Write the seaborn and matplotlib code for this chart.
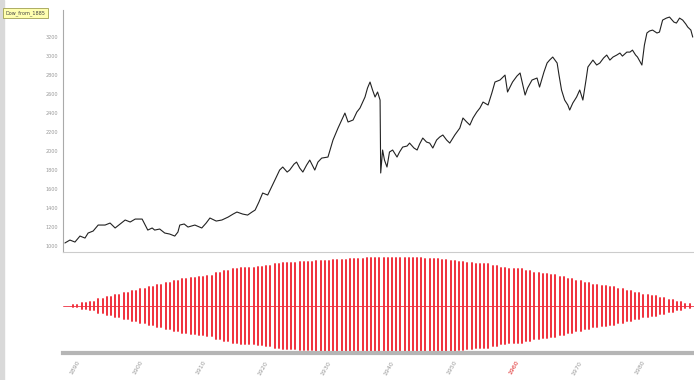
import numpy as np
import pandas as pd
import seaborn as sns
import matplotlib
matplotlib.use("Agg")
import matplotlib.pyplot as plt
from matplotlib.patches import Rectangle
from matplotlib.ticker import MultipleLocator

# index level
years = [1888.4, 1889.2, 1890.0, 1890.8, 1891.6, 1892.1, 1892.9, 1893.7, 1894.8, 1895.6,
         1896.4, 1897.2, 1898.0, 1898.8, 1899.6, 1900.7, 1901.1, 1901.6, 1902.3, 1902.7,
         1903.5, 1904.3, 1905.1, 1905.9, 1906.4, 1906.7, 1907.4, 1908.0, 1909.1, 1910.2,
         1910.9, 1911.5, 1912.5, 1913.4, 1914.4, 1915.2, 1915.8, 1916.7, 1917.5, 1918.2,
         1918.7, 1919.3, 1919.9, 1920.7, 1921.4, 1922.0, 1922.6, 1923.1, 1923.8, 1924.2,
         1924.9, 1925.3, 1925.8, 1926.3, 1926.9, 1927.4, 1928.2, 1928.7, 1929.3, 1930.3,
         1931.1, 1931.9, 1932.5, 1933.0, 1933.5, 1934.3, 1934.9, 1935.4, 1936.2, 1936.6,
         1937.0, 1937.4, 1937.8, 1938.2, 1938.6, 1938.7, 1939.0, 1939.3, 1939.7, 1940.1,
         1940.6, 1941.3, 1941.7, 1942.2, 1942.9, 1943.3, 1944.0, 1944.5, 1944.9, 1945.4,
         1946.0, 1946.5, 1947.0, 1947.6, 1948.1, 1948.6, 1949.2, 1949.7, 1950.5, 1951.3,
         1951.8, 1952.4, 1952.9, 1953.4, 1954.0, 1954.5, 1955.0, 1955.8, 1956.4, 1956.9,
         1957.7, 1958.5, 1958.9, 1959.7, 1960.4, 1960.9, 1961.7, 1962.1, 1962.8, 1963.6,
         1964.0, 1964.7, 1965.2, 1965.6, 1966.1, 1966.8, 1967.1, 1967.5, 1968.0, 1968.5,
         1968.8, 1969.3, 1969.9, 1970.4, 1970.9, 1971.4, 1971.7, 1972.5, 1973.1, 1973.6,
         1974.2, 1974.7, 1975.2, 1975.7, 1976.3, 1976.8, 1977.2, 1977.9, 1978.4, 1978.8,
         1979.3, 1979.6, 1980.3, 1980.7, 1981.1, 1981.5, 1982.0, 1982.7, 1983.1, 1983.6,
         1984.2, 1984.7, 1985.4, 1985.8, 1986.3, 1986.8, 1987.3, 1987.6, 1988.1, 1988.4]
level = [1032, 1063, 1042, 1105, 1084, 1137, 1158, 1221, 1221, 1242,
         1190, 1232, 1274, 1253, 1284, 1284, 1232, 1168, 1190, 1168,
         1179, 1137, 1126, 1105, 1147, 1221, 1232, 1200, 1221, 1190,
         1242, 1295, 1263, 1274, 1305, 1337, 1358, 1337, 1326, 1358,
         1379, 1463, 1558, 1537, 1632, 1716, 1800, 1832, 1779, 1800,
         1863, 1884, 1821, 1779, 1853, 1905, 1800, 1884, 1926, 1937,
         2116, 2242, 2327, 2400, 2306, 2327, 2411, 2453, 2569, 2664,
         2727, 2643, 2569, 2622, 2537, 1769, 2011, 1905, 1832, 1990,
         2011, 1937, 1990, 2042, 2053, 2084, 2032, 2011, 2074, 2137,
         2095, 2084, 2032, 2116, 2148, 2169, 2116, 2084, 2169, 2242,
         2348, 2306, 2274, 2348, 2411, 2453, 2516, 2485, 2611, 2727,
         2748, 2800, 2622, 2727, 2790, 2822, 2590, 2664, 2748, 2769,
         2674, 2832, 2927, 2958, 2990, 2927, 2800, 2643, 2537, 2485,
         2432, 2506, 2569, 2643, 2537, 2748, 2885, 2958, 2906, 2927,
         2980, 3011, 2958, 2990, 3011, 3032, 3000, 3042, 3042, 3063,
         3011, 2990, 2906, 3116, 3243, 3264, 3274, 3243, 3253, 3379,
         3400, 3411, 3358, 3348, 3400, 3379, 3337, 3306, 3274, 3200]

# oscillator swing amplitude, one value per up/down cycle (two strokes each)
swing = [0, 1, 3, 4, 7, 9, 11, 13, 15, 17, 19, 21, 23, 25, 27, 28, 29, 30, 33, 35,
         37, 38, 38, 39, 40, 42, 43, 43, 44, 44, 45, 45, 46, 46, 47, 47, 48, 48, 48, 48,
         48, 48, 48, 47, 47, 46, 45, 44, 43, 42, 42, 40, 38, 37, 37, 35, 33, 32, 31, 29,
         27, 25, 23, 21, 20, 19, 17, 15, 13, 11, 10, 8, 6, 4, 2]

tick_years = [1890, 1900, 1910, 1920, 1930, 1940, 1950, 1960, 1970, 1980]
tick_labels = [str(y) for y in tick_years]

df_top = pd.DataFrame({"year": years, "level": level})

# each stroke is a vertical swing from -a to +a
amp = np.repeat(swing, 2)
stroke_x = np.linspace(years[0], 1987.9, len(amp))
df_osc = pd.DataFrame({
    "stroke": np.repeat(np.arange(len(amp)), 2),
    "year": np.repeat(stroke_x, 2),
    "osc": np.ravel(np.column_stack([-amp, amp])),
})

sns.set_style("white")
fig = plt.figure(figsize=(6.94, 3.8), dpi=100)
ax1 = fig.add_axes([0.0908, 0.3368, 0.9092, 0.6368])
ax2 = fig.add_axes([0.0908, 0.0711, 0.9092, 0.2553], sharex=ax1)

sns.lineplot(data=df_top, x="year", y="level", ax=ax1, color="#222222",
             linewidth=0.8, estimator=None)
ax2.axhline(0, color="#ee3040", linewidth=0.6)
sns.lineplot(data=df_osc, x="year", y="osc", units="stroke", ax=ax2,
             color="#f0303c", linewidth=1.4, estimator=None, sort=False)

xmin, xmax = 1888.1, 1988.6
ax1.set_xlim(xmin, xmax)
ax1.set_ylim(937, 3485)
ax1.set_yticks(np.arange(1000, 3201, 200))
ax1.tick_params(axis="y", labelsize=3.5, colors="#999999", length=2, width=0.6, pad=1.5)
ax1.tick_params(axis="x", bottom=False, labelbottom=False)
ax1.set_xlabel("")
ax1.set_ylabel("")
for s in ["top", "right"]:
    ax1.spines[s].set_visible(False)
ax1.spines["left"].set_color("#aaaaaa")
ax1.spines["left"].set_linewidth(0.8)
ax1.spines["bottom"].set_color("#cccccc")
ax1.spines["bottom"].set_linewidth(0.8)

ax2.set_ylim(-47, 50)
ax2.set_yticks([])
ax2.set_xlabel("")
ax2.set_ylabel("")
for s in ["top", "right", "left"]:
    ax2.spines[s].set_visible(False)
ax2.spines["bottom"].set_color("#b5b5b5")
ax2.spines["bottom"].set_linewidth(3)
ax2.set_xticks(tick_years)
ax2.set_xticklabels(tick_labels, rotation=60, fontsize=4.5, color="#999999")
ax2.xaxis.set_minor_locator(MultipleLocator(1))
ax2.tick_params(axis="x", which="major", length=3, width=0.6, color="#999999", pad=2)
ax2.tick_params(axis="x", which="minor", length=1.5, width=0.5, color="#aaaaaa")
ax2.get_xticklabels()[7].set_color("#dd2222")

fig.patches.append(Rectangle((0, 0), 4 / 694, 1, transform=fig.transFigure,
                             color="#d9d9d9", zorder=0))
fig.text(0.008, 0.966, "Dow_from_1885", fontsize=3.5, va="center", color="#444444",
         bbox=dict(facecolor="#ffffb0", edgecolor="#a0a050", pad=1.5, linewidth=0.6))

fig.savefig("out.png", dpi=100)
